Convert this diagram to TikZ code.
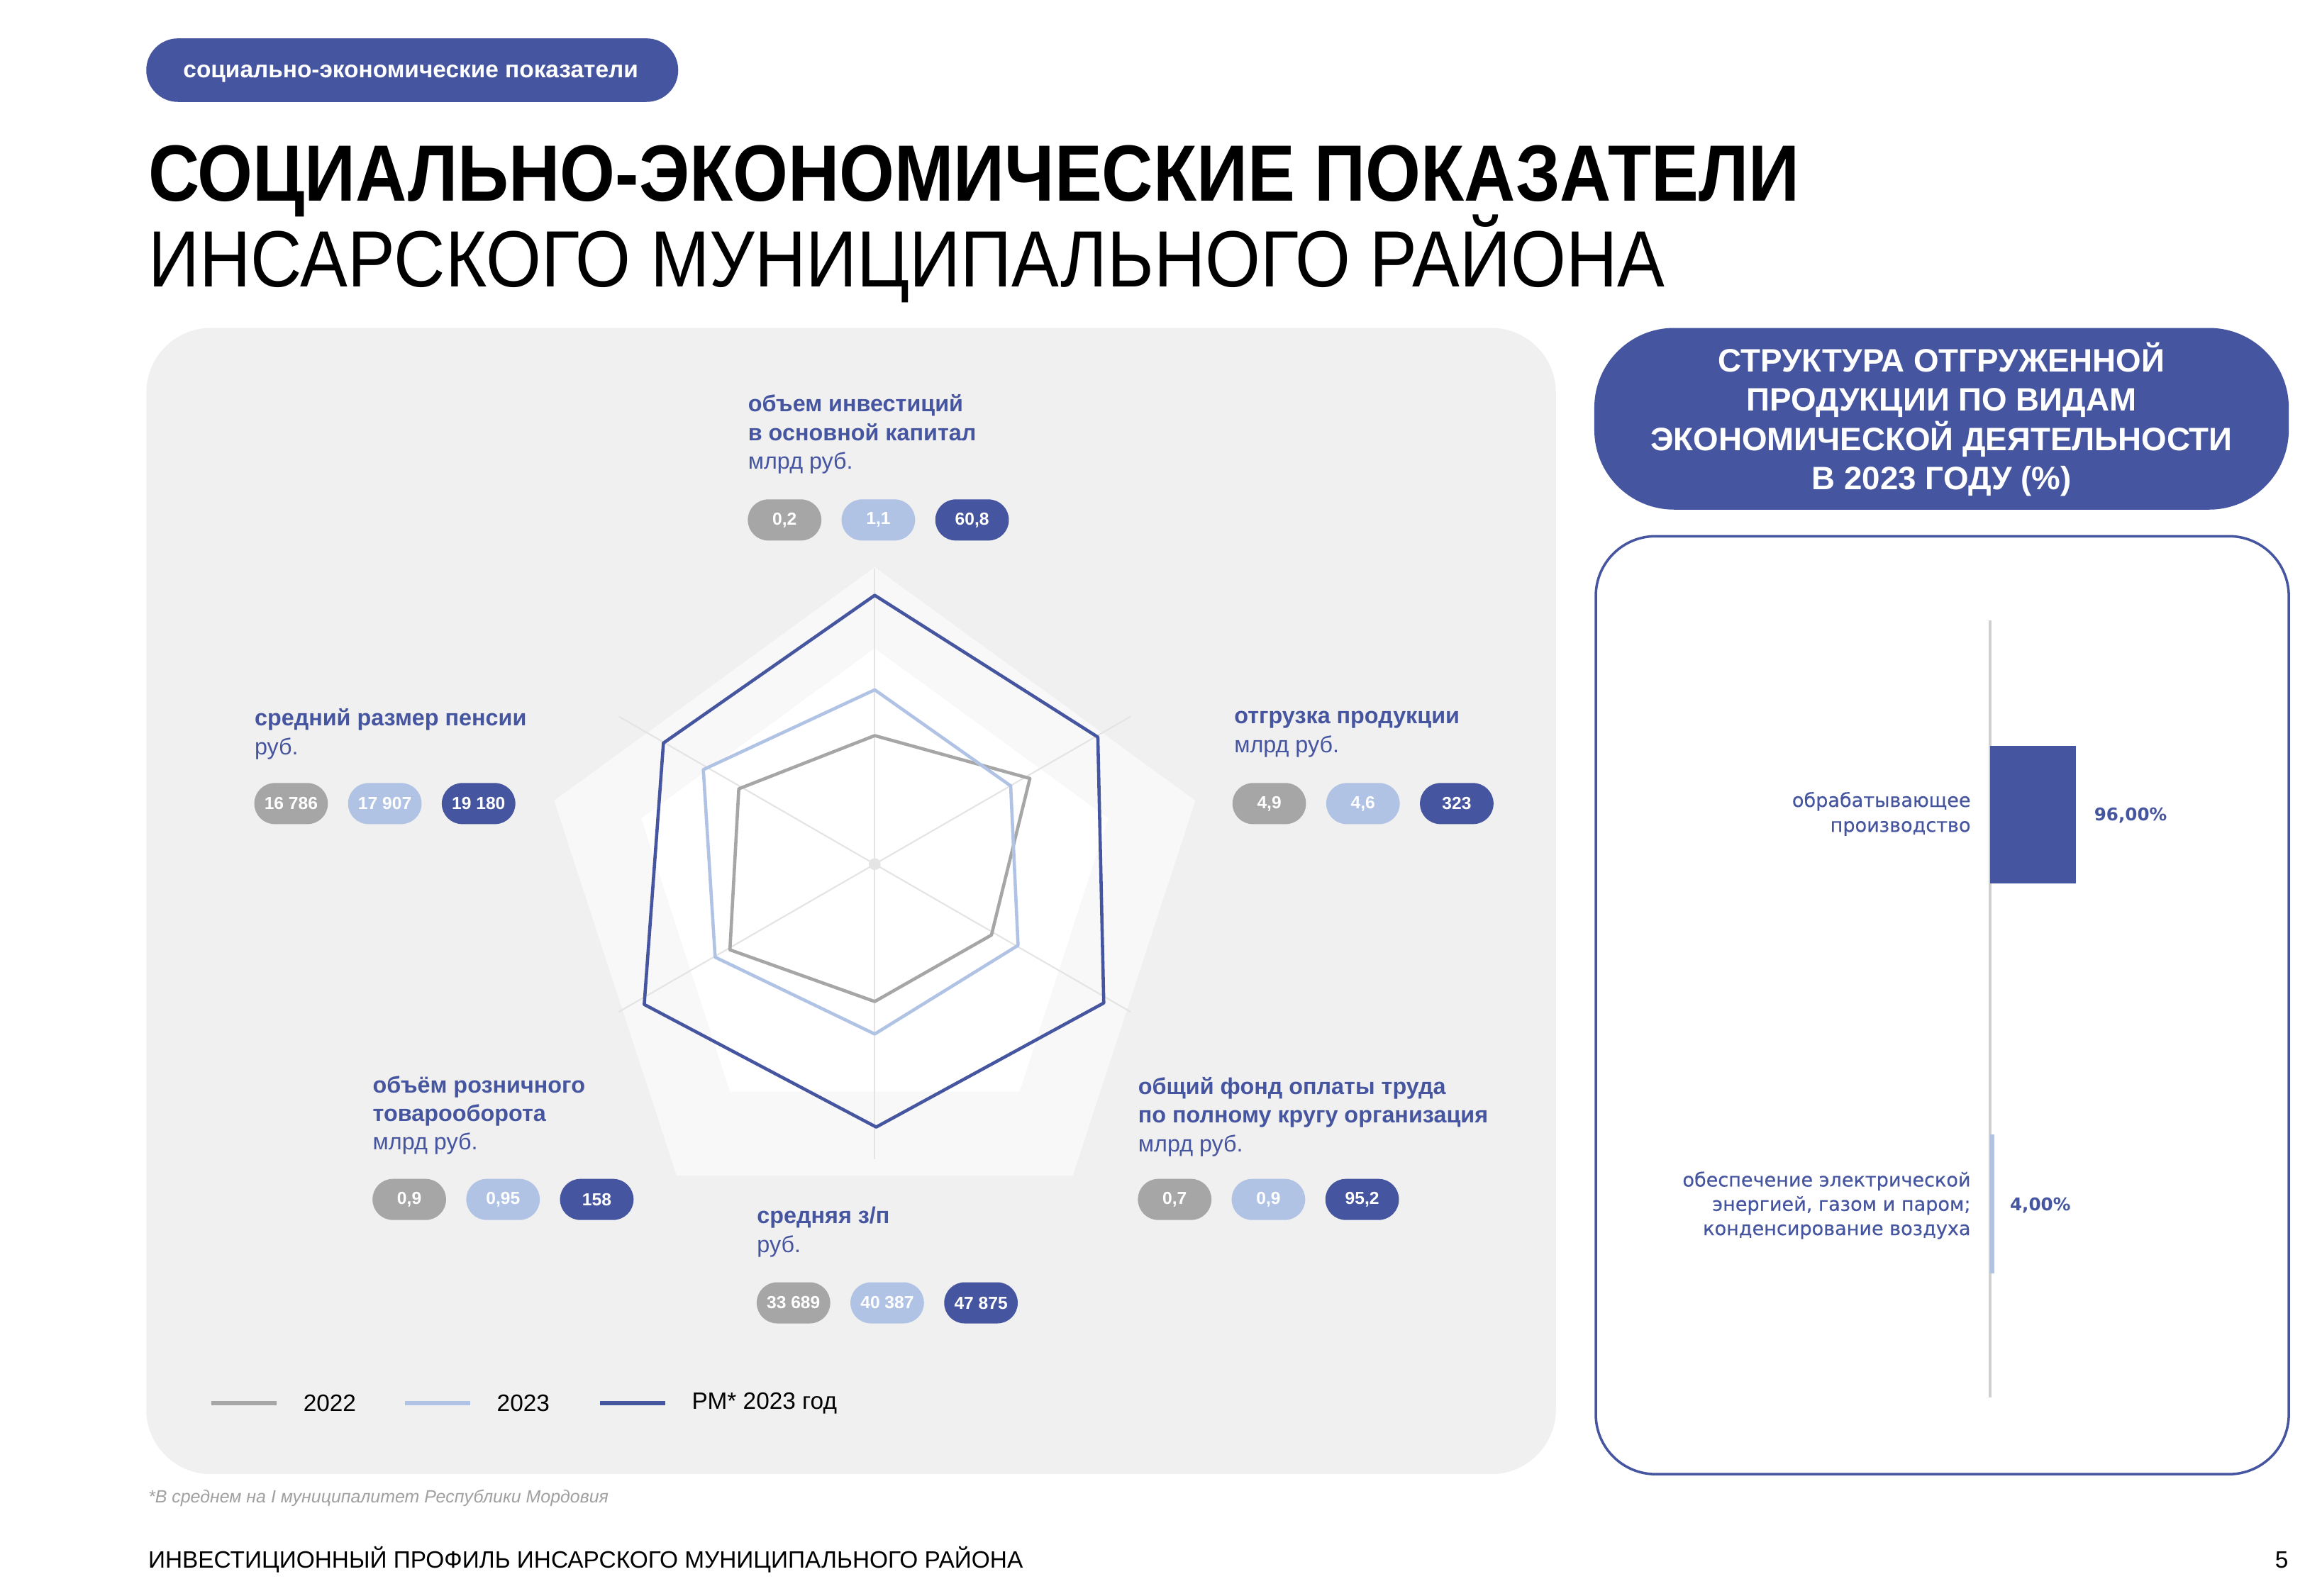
\documentclass[tikz,border=0pt]{standalone}
\usepackage{fontspec}
\setmainfont{Liberation Sans}
\newfontfamily\titlefont[FakeStretch=0.89]{Liberation Sans}
\newfontfamily\barfont{DejaVu Sans}
\newfontfamily\barlblfont[FakeBold=0.4]{DejaVu Sans}
\usetikzlibrary{positioning}

\definecolor{rmblue}{HTML}{46559F}
\definecolor{lightblue}{HTML}{B1C3E4}
\definecolor{midgray}{HTML}{A6A6A6}
\definecolor{panelgray}{HTML}{F0F0F0}
\definecolor{webgray}{HTML}{F8F8F8}
\definecolor{axisgray}{HTML}{E4E4E4}
\definecolor{notegray}{HTML}{A0A0A0}

\tikzset{
    pill/.style={rounded corners=8.2pt, minimum width=29.5pt, minimum height=16.5pt,
        inner sep=0pt, text=white, font=\fontsize{7}{8}\selectfont\bfseries},
    lbl/.style={anchor=west, align=left, inner sep=0pt, text=rmblue,
        font=\fontsize{9.2}{11.5}\selectfont},
    rmline/.style={draw=rmblue, line width=1.3pt, line join=round},
    line23/.style={draw=lightblue, line width=1.3pt, line join=round},
    line22/.style={draw=midgray, line width=1.3pt, line join=round},
    axisline/.style={draw=axisgray, line width=0.6pt},
    legtext/.style={anchor=west, inner sep=0pt, font=\fontsize{9.5}{11}\selectfont}
}

\begin{document}
\begin{tikzpicture}[x=0.0208333cm, y=-0.0208333cm]
    \useasboundingbox[fill=white] (0,0) rectangle (1560,1080);

    % header
    \fill[rmblue, rounded corners=12.7pt] (99,26) rectangle (459,69);
    \node[anchor=base, text=white, inner sep=0pt, font=\fontsize{9.5}{11}\selectfont\bfseries] (tag) at (278,52.7) {социально-экономические показатели};
    \node[anchor=base west, inner sep=0pt, font=\titlefont\fontsize{32}{36}\selectfont\bfseries] (title) at (100,136) {СОЦИАЛЬНО-ЭКОНОМИЧЕСКИЕ ПОКАЗАТЕЛИ};
    \node[anchor=base west, inner sep=0pt, font=\titlefont\fontsize{32}{36}\selectfont] (subtitle) at (100,194) {ИНСАРСКОГО МУНИЦИПАЛЬНОГО РАЙОНА};

    % radar panel
    \fill[panelgray, rounded corners=26pt] (99,222) rectangle (1053,998);
    \fill[webgray] (592,384) -- (809,542) -- (726,796) -- (458,796) -- (375,542) -- cycle;
    \fill[white] (592,439) -- (750,554) -- (690,739) -- (494,739) -- (434,554) -- cycle;
    \coordinate (c) at (592,585);
    \foreach \a in {90,30,-30,-90,-150,150}
        \draw[axisline] (c) -- ++(\a:200);
    \fill[axisgray] (c) circle (4);

    \draw[line22] (592,498) -- (697,527) -- (671,633) -- (592,678) -- (494,643) -- (500,534) -- cycle;
    \draw[line23] (592,467) -- (684,532) -- (689,640) -- (592,700) -- (484,648) -- (476,521) -- cycle;
    \draw[rmline] (592,403) -- (743,499) -- (747,679) -- (593,763) -- (436,680) -- (449,503) -- cycle;

    % labels and values
    \node[lbl] (inv) at (506,294) {\textbf{объем инвестиций}\\\textbf{в основной капитал}\\млрд руб.};
    \node[pill, fill=midgray] (inv22) at (531,352) {0,2};
    \node[pill, fill=lightblue, right=7.7pt of inv22] (inv23) {1,1};
    \node[pill, fill=rmblue, right=7.7pt of inv23] (invrm) {60,8};

    \node[lbl] (pens) at (172,497) {\textbf{средний размер пенсии}\\руб.};
    \node[pill, fill=midgray] (pens22) at (197,544) {16 786};
    \node[pill, fill=lightblue, right=7.7pt of pens22] (pens23) {17 907};
    \node[pill, fill=rmblue, right=7.7pt of pens23] (pensrm) {19 180};

    \node[lbl] (ship) at (835,497) {\textbf{отгрузка продукции}\\млрд руб.};
    \node[pill, fill=midgray] (ship22) at (859,544) {4,9};
    \node[pill, fill=lightblue, right=7.7pt of ship22] (ship23) {4,6};
    \node[pill, fill=rmblue, right=7.7pt of ship23] (shiprm) {323};

    \node[lbl] (retail) at (252,755) {\textbf{объём розничного}\\\textbf{товарооборота}\\млрд руб.};
    \node[pill, fill=midgray] (retail22) at (277,812) {0,9};
    \node[pill, fill=lightblue, right=7.7pt of retail22] (retail23) {0,95};
    \node[pill, fill=rmblue, right=7.7pt of retail23] (retailrm) {158};

    \node[lbl] (wage) at (770,756) {\textbf{общий фонд оплаты труда}\\\textbf{по полному кругу организация}\\млрд руб.};
    \node[pill, fill=midgray] (wage22) at (795,812) {0,7};
    \node[pill, fill=lightblue, right=7.7pt of wage22] (wage23) {0,9};
    \node[pill, fill=rmblue, right=7.7pt of wage23] (wagerm) {95,2};

    \node[lbl] (sal) at (512,834) {\textbf{средняя з/п}\\руб.};
    \node[pill, fill=midgray] (sal22) at (537,882) {33 689};
    \node[pill, fill=lightblue, right=7.7pt of sal22] (sal23) {40 387};
    \node[pill, fill=rmblue, right=7.7pt of sal23] (salrm) {47 875};

    % legend
    \draw[line22, line width=1.8pt] (143,950) -- (187,950);
    \node[legtext] (leg22) at (205,950) {2022};
    \draw[line23, line width=1.8pt] (274,950) -- (318,950);
    \node[legtext] (leg23) at (336,950) {2023};
    \draw[rmline, line width=1.8pt] (406,950) -- (450,950);
    \node[legtext] (legrm) at (468,950) {РМ* 2023 год};

    % structure panel
    \fill[rmblue, rounded corners=32pt] (1079,222) rectangle (1549,345);
    \node[align=center, text=white, inner sep=0pt, font=\fontsize{13}{15.8}\selectfont\bfseries] (head) at (1314,284)
        {СТРУКТУРА ОТГРУЖЕННОЙ\\ПРОДУКЦИИ ПО ВИДАМ\\ЭКОНОМИЧЕСКОЙ ДЕЯТЕЛЬНОСТИ\\В 2023 ГОДУ (\%)};
    \draw[rmblue, line width=1pt, fill=white, rounded corners=24pt] (1080,363) rectangle (1549,998);
    \draw[axisgray!80!gray, line width=1.2pt] (1347,420) -- (1347,946);
    \fill[rmblue] (1347,505) rectangle (1405,598);
    \fill[lightblue] (1347,768) rectangle (1349.5,862);
    \node[anchor=east, align=right, inner sep=0pt, text=rmblue, font=\barlblfont\fontsize{7.7}{10}\selectfont] (manuf) at (1334,551)
        {обрабатывающее\\производство};
    \node[anchor=west, inner sep=0pt, text=rmblue, font=\barfont\fontsize{7}{8}\selectfont\bfseries] (manufval) at (1417,552) {96,00\%};
    \node[anchor=east, align=right, inner sep=0pt, text=rmblue, font=\barlblfont\fontsize{7.7}{9.75}\selectfont] (energy) at (1334,816)
        {обеспечение электрической\\энергией, газом и паром;\\конденсирование воздуха};
    \node[anchor=west, inner sep=0pt, text=rmblue, font=\barfont\fontsize{7}{8}\selectfont\bfseries] (energyval) at (1360,816) {4,00\%};

    % footer
    \node[anchor=west, inner sep=0pt, text=notegray, font=\fontsize{7.1}{9}\selectfont\itshape] (note) at (100,1014)
        {*В среднем на I муниципалитет Республики Мордовия};
    \node[anchor=west, inner sep=0pt, font=\fontsize{9.5}{11}\selectfont] (foot) at (100,1056)
        {ИНВЕСТИЦИОННЫЙ ПРОФИЛЬ ИНСАРСКОГО МУНИЦИПАЛЬНОГО РАЙОНА};
    \node[anchor=east, inner sep=0pt, font=\fontsize{9.5}{11}\selectfont] (page) at (1549,1056) {5};
\end{tikzpicture}
\end{document}
